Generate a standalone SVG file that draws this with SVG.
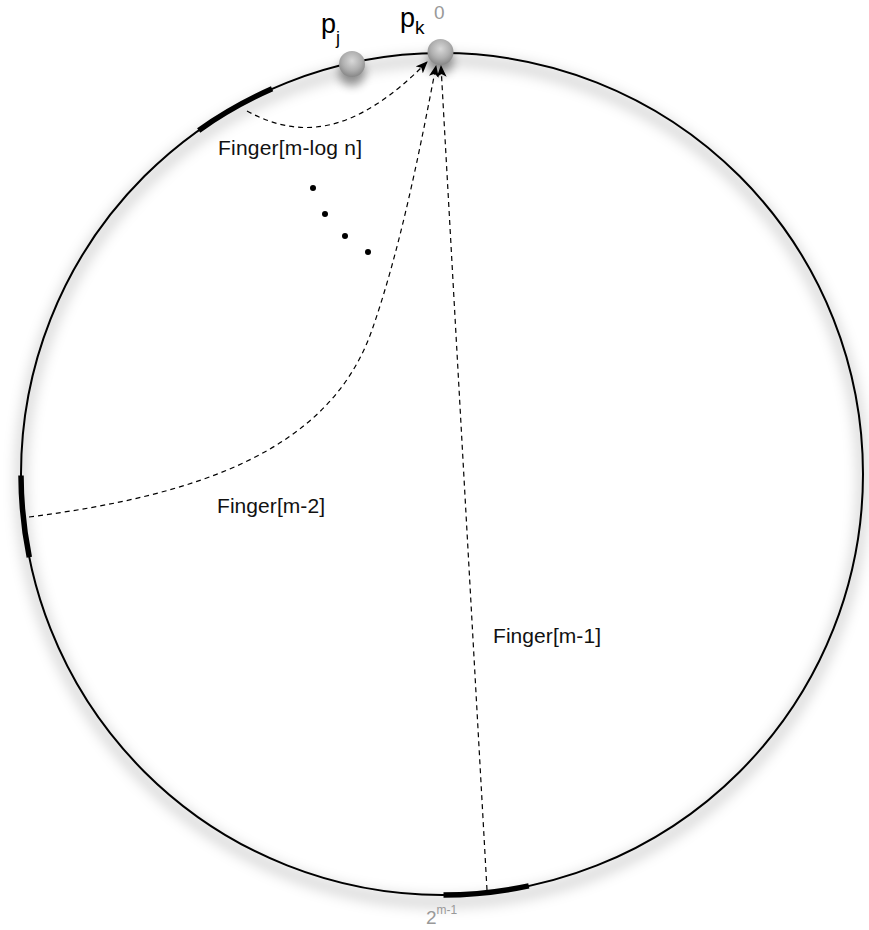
<svg xmlns="http://www.w3.org/2000/svg" width="869" height="930" viewBox="0 0 869 930">
<style>
.ring{fill:none;stroke:#000;stroke-width:2}
.thick{fill:none;stroke:#000;stroke-width:5.5}
.dash{fill:none;stroke:#000;stroke-width:1.2;stroke-dasharray:5 4}
.lbl{font-family:"Liberation Sans",Arial,sans-serif;font-size:21px;fill:#111}
.pl{font-family:"Liberation Sans",Arial,sans-serif;fill:#000}
.gray{font-family:"Liberation Sans",Arial,sans-serif;fill:#999}
.dot{fill:#000}
</style>
<defs>
<filter id="blur" x="-20%" y="-20%" width="140%" height="140%"><feGaussianBlur stdDeviation="7"/></filter>
<filter id="sblur" x="-100%" y="-100%" width="300%" height="300%"><feGaussianBlur stdDeviation="5"/></filter>
<radialGradient id="ball" cx="0.5" cy="0.38" r="0.6">
<stop offset="0" stop-color="#d8d8d8"/>
<stop offset="0.6" stop-color="#b0b0b0"/>
<stop offset="1" stop-color="#8a8a8a"/>
</radialGradient>
<marker id="arr" viewBox="0 0 12 10" refX="11" refY="5" markerWidth="12" markerHeight="10" markerUnits="userSpaceOnUse" orient="auto">
<path d="M0 0 L12 5 L0 10 L3 5 Z" fill="#000"/>
</marker>
</defs>
<g id="ring">
<circle cx="442" cy="481" r="421" fill="none" stroke="#000" stroke-opacity="0.22" stroke-width="8" filter="url(#blur)"/>
<circle class="ring" cx="442" cy="474" r="421"/>
<path class="thick" d="M198.7 130.4 A421 421 0 0 1 272.1 88.8"/>
<path class="thick" d="M29.3 557.2 A421 421 0 0 1 21 475.5"/>
<path class="thick" d="M528.8 885.9 A421 421 0 0 1 443.5 895"/>
</g>
<g id="connectors">
<path class="dash" d="M247 111 C300 140, 355 135, 427 62" marker-end="url(#arr)"/>
<path class="dash" d="M29 517 C200 495, 330 450, 372 330 C400 250, 420 150, 436 66" marker-end="url(#arr)"/>
<path class="dash" d="M487 890 L441 66" marker-end="url(#arr)"/>
</g>
<g id="pj">
<circle cx="352" cy="73" r="13" fill="#000" opacity="0.4" filter="url(#sblur)"/>
<circle cx="352" cy="64" r="13" fill="url(#ball)"/>
<text class="pl" x="321" y="33" font-size="27">p<tspan font-size="18" dy="11">j</tspan></text>
</g>
<g id="pk">
<circle cx="440.5" cy="61" r="13" fill="#000" opacity="0.4" filter="url(#sblur)"/>
<circle cx="440.5" cy="52" r="13" fill="url(#ball)"/>
<text class="pl" x="400" y="27" font-size="27">p<tspan font-size="19" dy="7">k</tspan></text>
<text class="gray" x="434" y="19" font-size="19">0</text>
</g>
<g id="dots">
<circle class="dot" cx="313" cy="188" r="3"/>
<circle class="dot" cx="325" cy="214" r="3"/>
<circle class="dot" cx="345" cy="236" r="3"/>
<circle class="dot" cx="368" cy="252" r="3"/>
</g>
<g id="labels">
<text class="lbl" x="218" y="155" textLength="144" lengthAdjust="spacing">Finger[m-log n]</text>
<text class="lbl" x="217" y="513" textLength="108" lengthAdjust="spacing">Finger[m-2]</text>
<text class="lbl" x="493" y="643" textLength="108" lengthAdjust="spacing">Finger[m-1]</text>
<text class="gray" x="426" y="924" font-size="19">2<tspan font-size="12" dy="-10">m-1</tspan></text>
</g>
</svg>
